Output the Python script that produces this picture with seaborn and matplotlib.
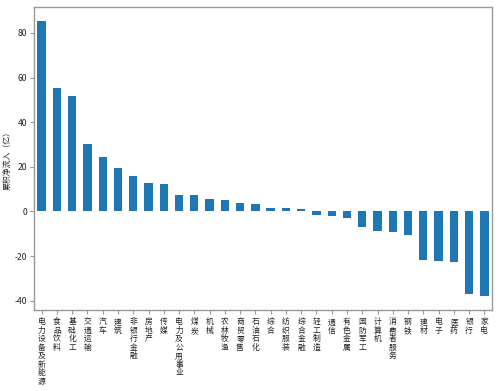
import matplotlib
matplotlib.use('Agg')
import matplotlib.pyplot as plt
import seaborn as sns
import pandas as pd

industries = ['电力设备及新能源', '食品饮料', '基础化工', '交通运输', '汽车', '建筑',
              '非银行金融', '房地产', '传媒', '电力及公用事业', '煤炭', '机械',
              '农林牧渔', '商贸零售', '石油石化', '综合', '纺织服装', '综合金融',
              '轻工制造', '通信', '有色金属', '国防军工', '计算机', '消费者服务',
              '钢铁', '建材', '电子', '医药', '银行', '家电']
net_inflow = [85.4, 55.4, 51.8, 30.4, 24.2, 19.6, 16.0, 12.7, 12.5, 7.5,
              7.2, 5.7, 5.2, 3.8, 3.4, 1.5, 1.5, 1.1, -1.8, -2.0,
              -3.0, -6.9, -8.9, -9.2, -10.6, -21.6, -22.2, -22.5, -37.0, -38.0]

df = pd.DataFrame({'industry': industries, 'inflow': net_inflow})

sns.set_style('white')
plt.rcParams['font.family'] = ['Noto Sans CJK SC', 'DejaVu Sans']
plt.rcParams['axes.unicode_minus'] = False

fig, ax = plt.subplots(figsize=(5, 3.91), dpi=100)
fig.subplots_adjust(left=0.068, right=0.984, top=0.982, bottom=0.207)

sns.barplot(x='industry', y='inflow', data=df, color='#1f77b4', width=0.55,
            saturation=1, linewidth=0, ax=ax)
ax.margins(y=0.05)

ax.set_xticks(range(len(industries)))
ax.set_xticklabels(['\n'.join(s) for s in industries], rotation=0,
                   fontsize=5.6, va='top', linespacing=1.08, color='#222222')
ax.set_xlabel('')
ax.set_ylabel('累积净流入（亿）', fontsize=5.7, color='#222222')
ax.yaxis.set_label_coords(-0.05, 0.5)
ax.tick_params(axis='y', labelsize=6.2, left=True, length=3, pad=2,
               color='#999999', labelcolor='#222222')
ax.tick_params(axis='x', bottom=True, length=3, pad=3, color='#999999')
for s in ax.spines.values():
    s.set_color('#999999')
    s.set_linewidth(1.0)

plt.savefig('out.png', dpi=100)
plt.close()
